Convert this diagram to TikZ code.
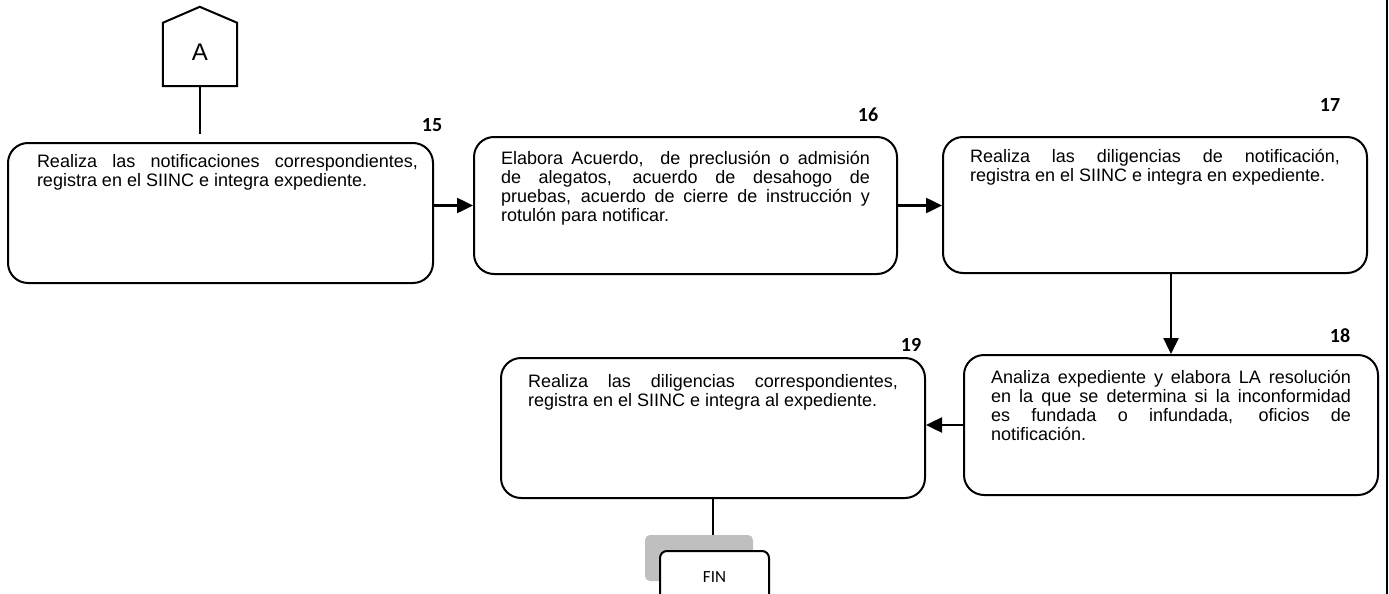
\documentclass[tikz,border=0pt]{standalone}
\usepackage{fontspec}
\setmainfont{Liberation Sans}
\newfontfamily\calibrifont{Carlito}
\usetikzlibrary{arrows.meta,positioning}
% box text: [left skip] height, first baseline, text width, text
\newcommand{\stepbody}[5][0pt]{\parbox[c][#2][t]{#4}{\leftskip=#1\hyphenpenalty=10000\sloppy\rule{0pt}{#3}\ignorespaces#5}}

\begin{document}
\begin{tikzpicture}[x=1pt,y=-1pt,
    font=\fontsize{18}{19}\selectfont,
    stepbox/.style={draw,line width=2pt,rounded corners=20pt,inner ysep=0pt,inner xsep=27pt},
    stepnum/.style={font=\calibrifont\bfseries\fontsize{20}{24}\selectfont},
    arr/.style={line width=2.5pt,-{Triangle[length=16pt,width=15pt]}},
    link/.style={line width=2pt}]
  \useasboundingbox (0,0) rectangle (1389,594);
  % off-page connector A
  \node[minimum width=74pt,minimum height=63pt,inner sep=0pt,
    font=\fontsize{24}{28}\selectfont] (A) at (200,54.5) {\raisebox{5pt}{A}};
  \draw[link,line join=miter] (A.south west) -- (A.north west) -- ++(37,-16) -- (A.north east)
    -- (A.south east) -- cycle;
  \node[stepbox,inner xsep=15pt] (b15) at (220.5,213) {\stepbody[14pt]{140pt}{24pt}{395pt}{%
    Realiza las notificaciones correspondientes,\linebreak registra en el SIINC e integra expediente.}};
  \node[stepbox,right=39pt of b15,yshift=7.5pt] (b16) {\stepbody{137pt}{27pt}{369pt}{%
    Elabora Acuerdo,\ \ de preclusión o admisión\linebreak de alegatos, acuerdo de desahogo de\linebreak
    pruebas, acuerdo de cierre de instrucción y\linebreak rotulón para notificar.}};
  \node[stepbox,right=44pt of b16,yshift=0.5pt] (b17) {\stepbody{136pt}{25pt}{370pt}{%
    Realiza las diligencias de notificación,\linebreak registra en el SIINC e integra en expediente.}};
  \node[stepbox,below=80pt of b17,xshift=16pt] (b18) {\stepbody{140pt}{28pt}{360pt}{%
    Analiza expediente y elabora LA resolución\linebreak en la que se determina si la inconformidad\linebreak
    es fundada o infundada, oficios de\linebreak notificación.}};
  \node[stepbox,left=37pt of b18,yshift=-3pt] (b19) {\stepbody{140pt}{29pt}{370pt}{%
    Realiza las diligencias correspondientes,\linebreak registra en el SIINC e integra al expediente.}};
  % step numbers
  \node[stepnum] (n15) at (432,125) {15};
  \node[stepnum] (n16) at (868,115) {16};
  \node[stepnum] (n17) at (1330,105) {17};
  \node[stepnum] (n18) at (1340,336) {18};
  \node[stepnum] (n19) at (911,345) {19};
  % end terminal
  \node[fill=gray!50,rounded corners=5pt,minimum width=108pt,minimum height=46pt] (finshadow) at (699,558) {};
  \node[draw,link,fill=white,rounded corners=7pt,minimum width=109pt,minimum height=53pt,
    font=\calibrifont\fontsize{17}{20}\selectfont] (fin) at (714.5,577.5) {FIN};
  % connectors
  \draw[link,shorten >=8pt] (A.south) -- (A.south |- b15.north);
  \draw[arr] (b15.east |- b16.west) -- (b16.west);
  \draw[arr] (b16.east) -- (b16.east -| b17.west);
  \draw[arr] (b18.north |- b17.south) -- (b18.north);
  \draw[arr] (b18.west) -- (b18.west -| b19.east);
  \draw[link] (b19.south) -- (b19.south |- finshadow.north);
  % page frame
  \draw[line width=1.5pt] (1387,0) -- (1387,594);
\end{tikzpicture}
\end{document}
